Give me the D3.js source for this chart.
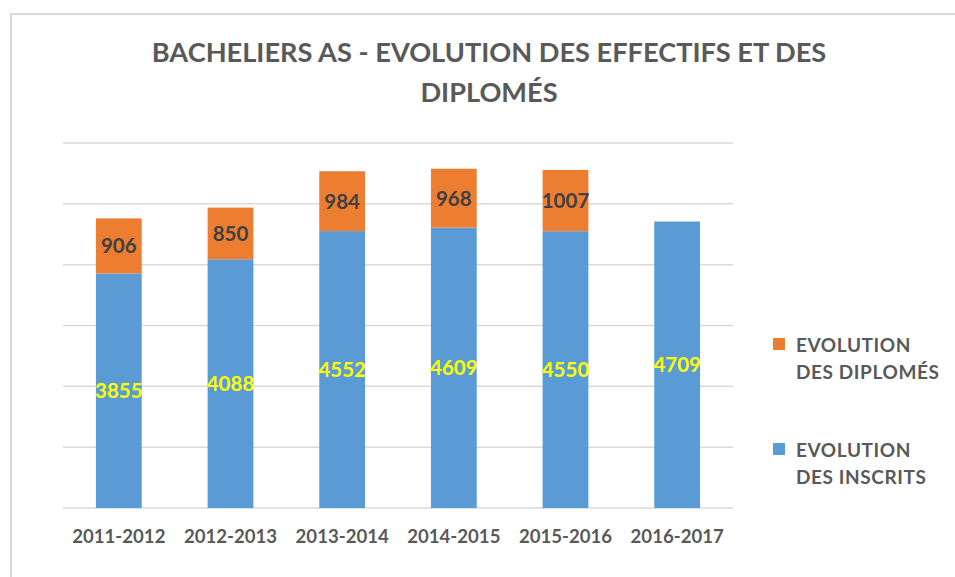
<!DOCTYPE html>
<html>
<head>
<meta charset="utf-8">
<script src="https://cdn.jsdelivr.net/npm/d3@7"></script>
<style>
  html, body { margin: 0; padding: 0; background: #fff; }
  svg { display: block; font-family: Lato, "Open Sans", sans-serif; }
</style>
</head>
<body>
<div id="chart"></div>
<script>
// Data
const years = ['2011-2012', '2012-2013', '2013-2014', '2014-2015', '2015-2016', '2016-2017'];
const inscrits = [3855, 4088, 4552, 4609, 4550, 4709];
const diplomes = [906, 850, 984, 968, 1007, null];
const yTicks = [0, 1000, 2000, 3000, 4000, 5000, 6000];
const titleLines = ['BACHELIERS AS - EVOLUTION DES EFFECTIFS ET DES', 'DIPLOMÉS'];

const width = 955, height = 577;
const margin = { top: 143, right: 222, bottom: 69, left: 63 };

const svg = d3.select('#chart')
  .append('svg')
  .attr('width', width)
  .attr('height', height);

// frame of the chart area (clipped on right and bottom)
svg.append('rect')
  .attr('x', 11).attr('y', 14)
  .attr('width', width).attr('height', height)
  .attr('fill', 'none')
  .attr('stroke', '#d9d9d9')
  .attr('stroke-width', 2);

// title
svg.append('g').selectAll('text')
  .data(titleLines)
  .join('text')
  .attr('x', 489)
  .attr('y', (d, i) => 62 + i * 40)
  .attr('text-anchor', 'middle')
  .attr('fill', '#595959')
  .attr('font-size', '27.2px')
  .attr('font-weight', 700)
  .text(d => d);

const table = years.map((y, i) => ({ year: y, inscrits: inscrits[i], diplomes: diplomes[i] || 0 }));
const series = d3.stack().keys(['inscrits', 'diplomes'])(table);
const colors = { inscrits: '#5b9bd5', diplomes: '#ed7d31' };

const x = d3.scaleBand()
  .domain(years)
  .range([margin.left, width - margin.right])
  .paddingInner(0.59)
  .paddingOuter(0.295);

const y = d3.scaleLinear()
  .domain([0, 6000])
  .range([height - margin.bottom, margin.top]);

// gridlines
svg.append('g')
  .selectAll('line')
  .data(yTicks)
  .join('line')
  .attr('x1', margin.left)
  .attr('x2', width - margin.right)
  .attr('y1', d => y(d))
  .attr('y2', d => y(d))
  .attr('stroke', '#d9d9d9')
  .attr('stroke-width', 1.5);

// bars
const layers = svg.append('g').selectAll('g')
  .data(series)
  .join('g')
  .attr('fill', d => colors[d.key]);

layers.selectAll('rect')
  .data(d => d.filter(p => p[1] > p[0]))
  .join('rect')
  .attr('x', d => x(d.data.year))
  .attr('width', x.bandwidth())
  .attr('y', d => y(d[1]))
  .attr('height', d => y(d[0]) - y(d[1]));

// value labels centred in each segment
layers.selectAll('text')
  .data(d => d.filter(p => p[1] > p[0]).map(p => ({ p, key: d.key })))
  .join('text')
  .attr('x', d => x(d.p.data.year) + x.bandwidth() / 2)
  .attr('y', d => (y(d.p[0]) + y(d.p[1])) / 2)
  .attr('dy', '0.36em')
  .attr('text-anchor', 'middle')
  .attr('font-size', '20.5px')
  .attr('font-weight', 700)
  .attr('fill', d => d.key === 'inscrits' ? '#ffff00' : '#404040')
  .text(d => d.p.data[d.key]);

// x axis labels
const xAxis = svg.append('g')
  .attr('transform', `translate(0,${height - margin.bottom})`)
  .call(d3.axisBottom(x).tickSize(0).tickPadding(22));
xAxis.select('.domain').remove();
xAxis.selectAll('text')
  .attr('fill', '#595959')
  .attr('font-size', '18.6px')
  .attr('font-weight', 700)
  .attr('font-family', 'Lato, sans-serif');

// legend
const legendItems = [
  { key: 'diplomes', lines: ['EVOLUTION', 'DES DIPLOMÉS'], y: 352 },
  { key: 'inscrits', lines: ['EVOLUTION', 'DES INSCRITS'], y: 457 }
];
const legend = svg.append('g').selectAll('g')
  .data(legendItems)
  .join('g')
  .attr('transform', d => `translate(773,${d.y})`);

legend.append('rect')
  .attr('x', 0).attr('y', -14)
  .attr('width', 12).attr('height', 12)
  .attr('fill', d => colors[d.key]);

legend.append('text')
  .attr('fill', '#595959')
  .attr('font-size', '19px')
  .attr('font-weight', 700)
  .attr('letter-spacing', '0.6px')
  .selectAll('tspan')
  .data(d => d.lines)
  .join('tspan')
  .attr('x', 23)
  .attr('y', (d, i) => i * 27)
  .text(d => d);
</script>
</body>
</html>
